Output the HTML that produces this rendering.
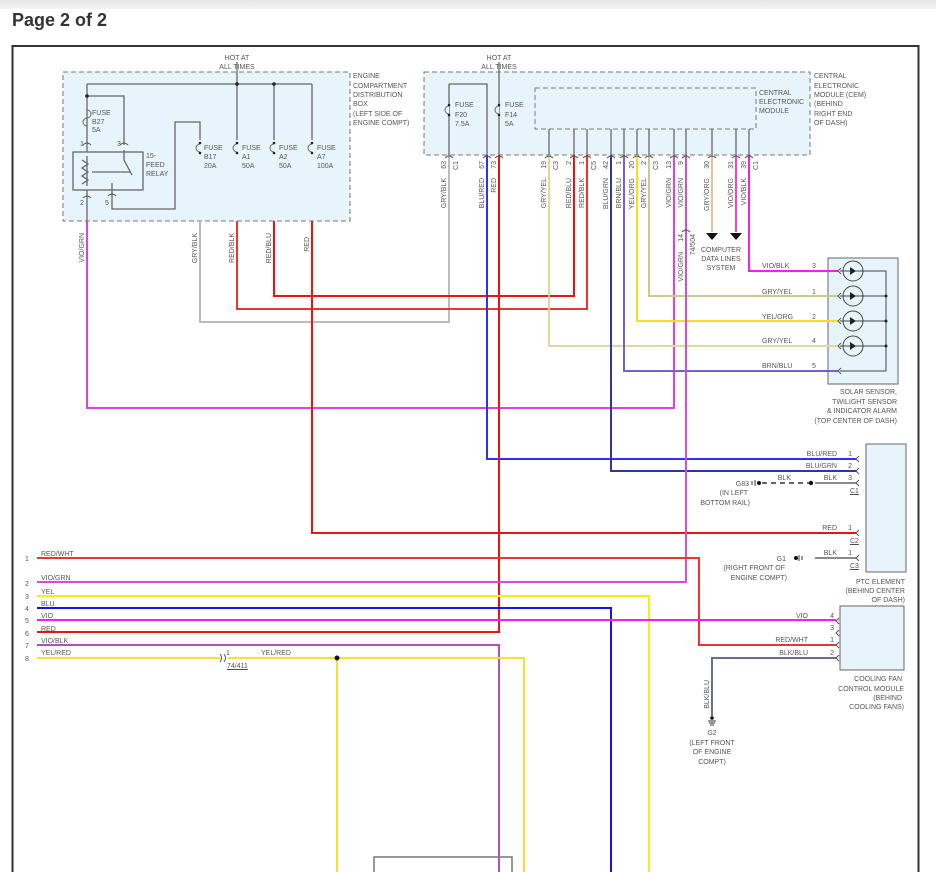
<!DOCTYPE html>
<html><head><meta charset="utf-8"><style>
body{margin:0;background:#fff;width:936px;height:872px;overflow:hidden;font-family:"Liberation Sans",sans-serif}
.hdr{position:absolute;left:0;top:0;width:936px;height:9px;background:linear-gradient(#e6e6e6,#f4f4f4)}
.title{position:absolute;left:12px;top:10px;font-size:18px;font-weight:bold;color:#333}
svg{position:absolute;left:0;top:0}
text{font-family:"Liberation Sans",sans-serif;font-size:7px;fill:#555}
</style></head><body>
<div class="hdr"></div>
<div class="title">Page 2 of 2</div>
<svg width="936" height="872" viewBox="0 0 936 872">
<rect x="12.5" y="46" width="906" height="840" fill="none" stroke="#333" stroke-width="2"/>
<rect x="63" y="72" width="287" height="149" fill="#e8f4fb" stroke="#777" stroke-dasharray="5,3"/>
<rect x="424" y="72" width="386" height="83" fill="#e8f4fb" stroke="#777" stroke-dasharray="5,3"/>
<rect x="535" y="88" width="221" height="41" fill="none" stroke="#777" stroke-dasharray="5,3"/>
<rect x="828" y="258" width="70" height="126" fill="#e8f4fb" stroke="#666"/>
<rect x="866" y="444" width="40" height="128" fill="#e8f4fb" stroke="#666"/>
<rect x="840" y="606" width="64" height="64" fill="#e8f4fb" stroke="#666"/>
<rect x="374" y="857" width="138" height="30" fill="none" stroke="#777" stroke-width="1.5"/>
<g stroke="#666" fill="none" stroke-width="1.3">
<path d="M237 62V84M87 84H312M87 84V152M87 96H124V145M237 84V140M274 84V140M312 84V140M87 108V130"/>
<rect x="73" y="152" width="70" height="38"/>
<path d="M87 190V221M112 183V209H175V122H200V140"/>
<path d="M82 160 l6 4 -6 4 6 4 -6 4 6 4 -6 4M87 156V186M124 150V160L132 175M92 172H130"/>
<path d="M499 62V155M449 84H487V155M449 84V155"/>
</g>
<g fill="#222"><circle cx="237" cy="84" r="1.8"/><circle cx="274" cy="84" r="1.8"/><circle cx="87" cy="96" r="1.8"/></g>
<g fill="#fff" stroke="#666"><path d="M87 110 a3 3 0 0 1 0 8 a3 3 0 0 0 0 8" fill="none"/><path d="M200 144 a3 3 0 0 0 0 8M237 144 a3 3 0 0 0 0 8M274 144 a3 3 0 0 0 0 8M312 144 a3 3 0 0 0 0 8M449 106 a3 3 0 0 0 0 8M499 106 a3 3 0 0 0 0 8" fill="#e8f4fb"/></g>
<g fill="#222"><circle cx="200" cy="143" r="1.3"/><circle cx="200" cy="153" r="1.3"/><circle cx="237" cy="143" r="1.3"/><circle cx="237" cy="153" r="1.3"/><circle cx="274" cy="143" r="1.3"/><circle cx="274" cy="153" r="1.3"/><circle cx="312" cy="143" r="1.3"/><circle cx="312" cy="153" r="1.3"/><circle cx="449" cy="105" r="1.3"/><circle cx="449" cy="115" r="1.3"/><circle cx="499" cy="105" r="1.3"/><circle cx="499" cy="115" r="1.3"/></g>
<g stroke="#666" stroke-width="1.3"><path d="M549 129V155M574 129V155M587 129V155M611 129V155M624 129V155M637 129V155M649 129V155M674 129V155M686 129V155M712 129V155M736 129V155M749 129V155"/></g>
<g fill="none" stroke-width="2">
<path d="M87 221V408H674V155" stroke="#e040e0"/>
<path d="M200 221V322H449V155" stroke="#bbb"/>
<path d="M237 221V309H587V155" stroke="#e33"/>
<path d="M274 221V296H574V155" stroke="#e11"/>
<path d="M312 221V533H856" stroke="#e11"/>
<path d="M487 155V459H856" stroke="#3030ee"/>
<path d="M499 155V632H37" stroke="#e11"/>
<path d="M549 155V346H838" stroke="#ddd8a0"/>
<path d="M611 155V471H856" stroke="#2a3a9a"/>
<path d="M624 155V371H838" stroke="#7a60c0"/>
<path d="M637 155V321H838" stroke="#f5e020"/>
<path d="M649 155V296H838" stroke="#ccc890"/>
<path d="M686 155V582H37" stroke="#d050d0"/>
<path d="M712 155V232" stroke="#e8c0a0"/>
<path d="M736 155V232" stroke="#f040e0"/>
<path d="M749 155V271H838" stroke="#f020f0"/>
<path d="M37 558H699V645H836" stroke="#ee3333"/>
<path d="M37 596H649V872" stroke="#f5f010"/>
<path d="M37 608H611V872" stroke="#1515e0"/>
<path d="M37 620H836" stroke="#f020f0"/>
<path d="M37 645H499V872" stroke="#b050c0"/>
<path d="M37 658H220M228 658H524V872M337 658V872" stroke="#f8e030"/>
<path d="M836 658H712V716" stroke="#6a6a9a"/>
<path d="M815 483H856M815 558H856" stroke="#666" stroke-width="1.5"/>
<path d="M762 483H810" stroke="#333" stroke-width="1.5" stroke-dasharray="5,4"/>
</g>
<g fill="#111"><circle cx="337" cy="658" r="2.5"/><circle cx="811" cy="483" r="2.2"/><circle cx="759" cy="483" r="2"/><circle cx="796" cy="558" r="2"/><circle cx="712" cy="718" r="1.8"/></g>
<path d="M706 233h12l-6 7zM730 233h12l-6 7z" fill="#111"/>
<g stroke="#444" fill="none" stroke-width="1"><path d="M840 271H886V371M840 296H886M840 321H886M840 346H886M840 371H886"/>
<circle cx="853" cy="271" r="10"/><circle cx="853" cy="296" r="10"/><circle cx="853" cy="321" r="10"/><circle cx="853" cy="346" r="10"/></g>
<g fill="#222"><path d="M850 267v8l6-4zM850 292v8l6-4zM850 317v8l6-4zM850 342v8l6-4z"/><circle cx="886" cy="296" r="1.5"/><circle cx="886" cy="321" r="1.5"/><circle cx="886" cy="346" r="1.5"/></g>
<g stroke="#555" fill="none" stroke-width="1"><path d="M841 268l-3 3 3 3M841 293l-3 3 3 3M841 318l-3 3 3 3M841 343l-3 3 3 3M841 368l-3 3 3 3M859 456l-3 3 3 3M859 468l-3 3 3 3M859 480l-3 3 3 3M859 530l-3 3 3 3M859 555l-3 3 3 3M839 618l-3 3 3 3M839 630l-3 3 3 3M839 642l-3 3 3 3M839 655l-3 3 3 3"/>
<path d="M445 158q4-4 8 0M483 158q4-4 8 0M495 158q4-4 8 0M545 158q4-4 8 0M570 158q4-4 8 0M583 158q4-4 8 0M607 158q4-4 8 0M620 158q4-4 8 0M633 158q4-4 8 0M645 158q4-4 8 0M670 158q4-4 8 0M682 158q4-4 8 0M708 158q4-4 8 0M732 158q4-4 8 0M745 158q4-4 8 0M682 232q4-4 8 0M83 145q4-4 8 0M120 145q4-4 8 0M83 198q4-4 8 0M108 196q4-4 8 0M220 654q3 4 0 8M224 654q3 4 0 8"/></g>
<text x="237" y="60" text-anchor="middle">HOT AT</text><text x="237" y="69" text-anchor="middle">ALL TIMES</text>
<text x="499" y="60" text-anchor="middle">HOT AT</text><text x="499" y="69" text-anchor="middle">ALL TIMES</text>
<text x="353" y="78">ENGINE</text><text x="353" y="88">COMPARTMENT</text><text x="353" y="97">DISTRIBUTION</text><text x="353" y="106">BOX</text><text x="353" y="116">(LEFT SIDE OF</text><text x="353" y="125">ENGINE COMPT)</text>
<text x="814" y="78">CENTRAL</text><text x="814" y="88">ELECTRONIC</text><text x="814" y="97">MODULE (CEM)</text><text x="814" y="106">(BEHIND</text><text x="814" y="116">RIGHT END</text><text x="814" y="125">OF DASH)</text>
<text x="759" y="95">CENTRAL</text><text x="759" y="104">ELECTRONIC</text><text x="759" y="113">MODULE</text>
<text x="92" y="115">FUSE</text><text x="92" y="124">B27</text><text x="92" y="132">5A</text>
<text x="204" y="150">FUSE</text><text x="204" y="159">B17</text><text x="204" y="168">20A</text>
<text x="242" y="150">FUSE</text><text x="242" y="159">A1</text><text x="242" y="168">50A</text>
<text x="279" y="150">FUSE</text><text x="279" y="159">A2</text><text x="279" y="168">50A</text>
<text x="317" y="150">FUSE</text><text x="317" y="159">A7</text><text x="317" y="168">100A</text>
<text x="455" y="107">FUSE</text><text x="455" y="117">F20</text><text x="455" y="126">7.5A</text>
<text x="505" y="107">FUSE</text><text x="505" y="117">F14</text><text x="505" y="126">5A</text>
<text x="146" y="158">15-</text><text x="146" y="167">FEED</text><text x="146" y="176">RELAY</text>
<text x="80" y="146">1</text><text x="117" y="146">3</text><text x="80" y="205">2</text><text x="105" y="205">5</text>
<g text-anchor="end">
<text transform="translate(84,233) rotate(-90)">VIO/GRN</text>
<text transform="translate(197,233) rotate(-90)">GRY/BLK</text>
<text transform="translate(234,233) rotate(-90)">RED/BLK</text>
<text transform="translate(271,233) rotate(-90)">RED/BLU</text>
<text transform="translate(309,237) rotate(-90)">RED</text>
<text transform="translate(446,161) rotate(-90)">63</text><text transform="translate(458,161) rotate(-90)">C1</text>
<text transform="translate(484,161) rotate(-90)">67</text><text transform="translate(496,161) rotate(-90)">73</text>
<text transform="translate(546,161) rotate(-90)">19</text><text transform="translate(558,161) rotate(-90)">C3</text>
<text transform="translate(571,161) rotate(-90)">2</text><text transform="translate(584,161) rotate(-90)">1</text><text transform="translate(596,161) rotate(-90)">C5</text>
<text transform="translate(608,161) rotate(-90)">42</text><text transform="translate(621,161) rotate(-90)">1</text><text transform="translate(634,161) rotate(-90)">20</text><text transform="translate(646,161) rotate(-90)">2</text><text transform="translate(658,161) rotate(-90)">C3</text>
<text transform="translate(671,161) rotate(-90)">13</text><text transform="translate(683,161) rotate(-90)">9</text><text transform="translate(709,161) rotate(-90)">30</text><text transform="translate(733,161) rotate(-90)">31</text><text transform="translate(746,161) rotate(-90)">39</text><text transform="translate(758,161) rotate(-90)">C1</text>
<text transform="translate(446,178) rotate(-90)">GRY/BLK</text><text transform="translate(484,178) rotate(-90)">BLU/RED</text><text transform="translate(496,178) rotate(-90)">RED</text>
<text transform="translate(546,178) rotate(-90)">GRY/YEL</text><text transform="translate(571,178) rotate(-90)">RED/BLU</text><text transform="translate(584,178) rotate(-90)">RED/BLK</text>
<text transform="translate(608,178) rotate(-90)">BLU/GRN</text><text transform="translate(621,178) rotate(-90)">BRN/BLU</text><text transform="translate(634,178) rotate(-90)">YEL/ORG</text><text transform="translate(646,178) rotate(-90)">GRY/YEL</text>
<text transform="translate(671,178) rotate(-90)">VIO/GRN</text><text transform="translate(683,178) rotate(-90)">VIO/GRN</text><text transform="translate(709,178) rotate(-90)">GRY/ORG</text><text transform="translate(733,178) rotate(-90)">VIO/ORG</text><text transform="translate(746,178) rotate(-90)">VIO/BLK</text>
<text transform="translate(683,234) rotate(-90)">14</text><text transform="translate(695,234) rotate(-90)">74/504</text>
<text transform="translate(683,252) rotate(-90)">VIO/GRN</text>
<text transform="translate(709,680) rotate(-90)">BLK/BLU</text>
</g>
<text x="721" y="252" text-anchor="middle">COMPUTER</text><text x="721" y="261" text-anchor="middle">DATA LINES</text><text x="721" y="270" text-anchor="middle">SYSTEM</text>
<text x="762" y="268">VIO/BLK</text><text x="762" y="294">GRY/YEL</text><text x="762" y="319">YEL/ORG</text><text x="762" y="343">GRY/YEL</text><text x="762" y="368">BRN/BLU</text>
<text x="812" y="268">3</text><text x="812" y="294">1</text><text x="812" y="319">2</text><text x="812" y="343">4</text><text x="812" y="368">5</text>
<g text-anchor="end"><text x="897" y="394">SOLAR SENSOR,</text><text x="897" y="404">TWILIGHT SENSOR</text><text x="897" y="413">&amp; INDICATOR ALARM</text><text x="897" y="423">(TOP CENTER OF DASH)</text>
<text x="837" y="456">BLU/RED</text><text x="837" y="468">BLU/GRN</text><text x="837" y="480">BLK</text><text x="791" y="480">BLK</text><text x="837" y="530">RED</text><text x="837" y="555">BLK</text>
<text x="852" y="456">1</text><text x="852" y="468">2</text><text x="852" y="480">3</text><text x="852" y="530">1</text><text x="852" y="555">1</text>
<text x="749" y="486">G83</text><text x="748" y="495">(IN LEFT</text><text x="750" y="505">BOTTOM RAIL)</text>
<text x="786" y="561">G1</text><text x="785" y="570">(RIGHT FRONT OF</text><text x="787" y="580">ENGINE COMPT)</text>
<text x="905" y="584">PTC ELEMENT</text><text x="905" y="593">(BEHIND CENTER</text><text x="905" y="602">OF DASH)</text>
<text x="808" y="618">VIO</text><text x="808" y="642">RED/WHT</text><text x="808" y="655">BLK/BLU</text>
<text x="834" y="618">4</text><text x="834" y="630">3</text><text x="834" y="642">1</text><text x="834" y="655">2</text>
<text x="902" y="681">COOLING FAN</text><text x="904" y="691">CONTROL MODULE</text><text x="902" y="700">(BEHIND</text><text x="904" y="709">COOLING FANS)</text></g>
<g text-anchor="middle"><text x="712" y="735">G2</text><text x="712" y="745">(LEFT FRONT</text><text x="712" y="754">OF ENGINE</text><text x="712" y="764">COMPT)</text></g>
<g text-decoration="underline"><text x="850" y="493">C1</text><text x="850" y="543">C2</text><text x="850" y="568">C3</text><text x="227" y="668">74/411</text></g>
<text x="226" y="655">1</text><text x="261" y="655">YEL/RED</text>
<text x="41" y="556">RED/WHT</text><text x="41" y="580">VIO/GRN</text><text x="41" y="594">YEL</text><text x="41" y="606">BLU</text><text x="41" y="618">VIO</text><text x="41" y="631">RED</text><text x="41" y="643">VIO/BLK</text><text x="41" y="655">YEL/RED</text>
<text x="25" y="561">1</text><text x="25" y="586">2</text><text x="25" y="599">3</text><text x="25" y="611">4</text><text x="25" y="623">5</text><text x="25" y="636">6</text><text x="25" y="648">7</text><text x="25" y="661">8</text>
<g stroke="#333" stroke-width="1"><path d="M755 480v6M752 481v4M799 555v6M802 556v4M708 721h8M709 723h6M710 725h4"/></g>
</svg>
</body></html>
